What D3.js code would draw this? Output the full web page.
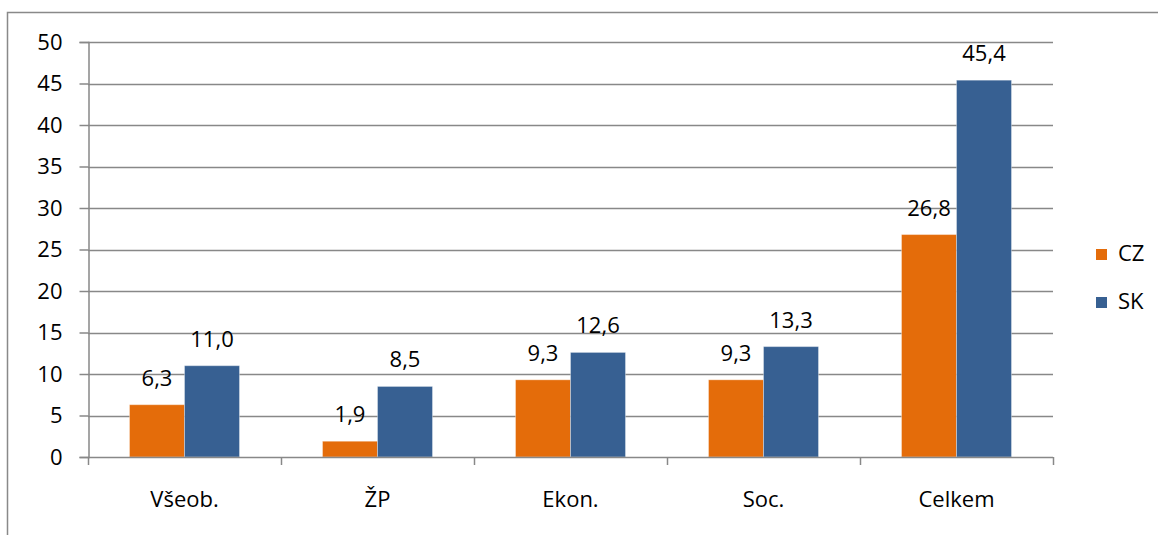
<!DOCTYPE html>
<html>
<head>
<meta charset="utf-8">
<script src="https://cdn.jsdelivr.net/npm/d3@7"></script>
<style>
  html, body { margin: 0; padding: 0; background: #fff; }
  svg { display: block; font-family: "Open Sans", "Noto Sans", sans-serif; }
</style>
</head>
<body>
<svg id="chart" width="1158" height="535"></svg>
<script>
// Categories and series
const categories = ["Všeob.", "ŽP", "Ekon.", "Soc.", "Celkem"];
const seriesNames = ["CZ", "SK"];
const czValues = [6.3, 1.9, 9.3, 9.3, 26.8];
const skValues = [11.0, 8.5, 12.6, 13.3, 45.4];
const yTicks = [0, 5, 10, 15, 20, 25, 30, 35, 40, 45, 50];
const colors = ["#E46C0A", "#376092"];

const seriesValues = [czValues, skValues];
const fmt = v => v.toFixed(1).replace(".", ",");
const FONT = "22px";

const svg = d3.select("#chart");
const W = 1158, H = 535;

// Outer chart frame (top and left edges)
svg.append("path")
  .attr("d", `M7.5,${H} L7.5,12.5 L${W},12.5`)
  .attr("fill", "none")
  .attr("stroke", "#898989")
  .attr("stroke-width", 1.5);

const plot = { left: 88, right: 1053, top: 42, bottom: 457 };

const x = d3.scaleBand()
  .domain(categories)
  .range([plot.left, plot.right])
  .paddingInner(0)
  .paddingOuter(0);

const y = d3.scaleLinear()
  .domain([0, 50])
  .range([plot.bottom, plot.top]);

// Horizontal gridlines
svg.append("g")
  .selectAll("line")
  .data(yTicks.filter(t => t > 0))
  .join("line")
  .attr("x1", plot.left)
  .attr("x2", plot.right)
  .attr("y1", d => Math.round(y(d)) + 0.5)
  .attr("y2", d => Math.round(y(d)) + 0.5)
  .attr("stroke", "#888888")
  .attr("stroke-width", 1.5);

// Y axis
const yAxis = d3.axisLeft(y)
  .tickValues(yTicks)
  .tickSize(9)
  .tickPadding(17)
  .tickFormat(d => d);

const gy = svg.append("g")
  .attr("transform", `translate(${plot.left + 0.5},0)`)
  .call(yAxis);
gy.select(".domain").attr("stroke", "#888888").attr("stroke-width", 1.5);
gy.selectAll(".tick line").attr("stroke", "#888888").attr("stroke-width", 1.5);
gy.selectAll(".tick text")
  .attr("fill", "#000")
  .style("font-size", FONT)
  .style("font-family", "'Open Sans', sans-serif");

// Bars
const groupWidth = x.bandwidth();
const barW = 55;
const groups = svg.append("g")
  .selectAll("g")
  .data(categories)
  .join("g")
  .attr("transform", d => `translate(${x(d) + groupWidth / 2},0)`);

seriesNames.forEach((name, si) => {
  groups.append("rect")
    .attr("x", si === 0 ? -barW : 0)
    .attr("width", barW)
    .attr("y", (d, i) => y(seriesValues[si][i]))
    .attr("height", (d, i) => y(0) - y(seriesValues[si][i]))
    .attr("fill", colors[si])
    .attr("stroke", "rgba(255,255,255,0.35)")
    .attr("stroke-width", 1);

  groups.append("text")
    .attr("x", si === 0 ? -barW / 2 : barW / 2)
    .attr("y", (d, i) => y(seriesValues[si][i]) - 19)
    .attr("text-anchor", "middle")
    .attr("fill", "#000")
    .style("font-size", FONT)
    .text((d, i) => fmt(seriesValues[si][i]));
});

// X axis
const xAxis = d3.axisBottom(x).tickSize(0).tickPadding(0).tickFormat(d => d);
const gx = svg.append("g")
  .attr("transform", `translate(0,${plot.bottom + 0.5})`)
  .call(xAxis);
gx.select(".domain").remove();
gx.selectAll(".tick line").remove();
gx.selectAll(".tick text")
  .attr("y", 49)
  .attr("dy", 0)
  .attr("fill", "#000")
  .style("font-size", FONT)
  .style("font-family", "'Open Sans', sans-serif");

// Axis baseline and category separators
svg.append("line")
  .attr("x1", plot.left).attr("x2", plot.right)
  .attr("y1", plot.bottom + 0.5).attr("y2", plot.bottom + 0.5)
  .attr("stroke", "#888888").attr("stroke-width", 1.5);
const sepPos = categories.map(c => x(c)).concat([plot.right]);
svg.append("g")
  .selectAll("line")
  .data(sepPos)
  .join("line")
  .attr("x1", d => d + 0.5).attr("x2", d => d + 0.5)
  .attr("y1", plot.bottom).attr("y2", plot.bottom + 8)
  .attr("stroke", "#888888").attr("stroke-width", 1.5);

// Legend
const legend = svg.append("g")
  .selectAll("g")
  .data(seriesNames)
  .join("g")
  .attr("transform", (d, i) => `translate(1096,${249 + i * 48})`);
legend.append("rect")
  .attr("width", 11).attr("height", 11)
  .attr("fill", (d, i) => colors[i]);
legend.append("text")
  .attr("x", 22).attr("y", 12)
  .attr("fill", "#000")
  .style("font-size", FONT)
  .text(d => d);
</script>
</body>
</html>
